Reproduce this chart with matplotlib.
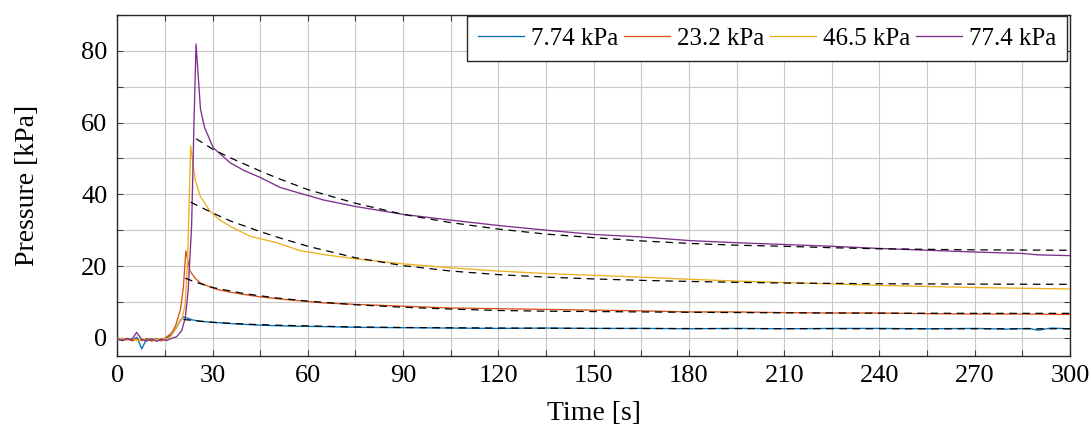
import matplotlib
matplotlib.use("Agg")
import matplotlib.pyplot as plt
from matplotlib.ticker import MultipleLocator

# measured pressure traces (time [s], pressure [kPa])
t_b = [0, 1.6, 3.1, 4.7, 6.2, 7.7, 9.3, 10.8, 12.4, 13.9, 15.5, 17.0, 18.6, 19.8, 20.8, 22.0,
       23.5, 26.0, 30, 36.6, 45, 52, 57.5, 65, 75, 90, 105, 120, 135, 150, 165, 180, 195, 210,
       225, 240, 255, 270, 280, 287, 290, 294, 300]
p_b = [0.0, -0.6, -0.2, -0.5, 0.1, -3.1, -0.2, -0.6, -0.3, -0.7, 0.0, 0.8, 2.8, 4.8, 5.8, 5.5,
       5.0, 4.6, 4.3, 3.9, 3.5, 3.3, 3.2, 3.1, 2.9, 2.8, 2.7, 2.6, 2.7, 2.6, 2.6, 2.5, 2.6, 2.5,
       2.6, 2.6, 2.5, 2.6, 2.4, 2.6, 2.1, 2.7, 2.5]

t_r = [0, 1.6, 3.1, 4.7, 6.2, 7.7, 9.3, 10.8, 12.4, 13.9, 15.5, 17.0, 18.3, 19.9, 20.8, 21.6,
       22.9, 24.5, 26.1, 28.5, 31.3, 35, 39.7, 45, 52.3, 57.5, 65, 75, 90, 105, 120, 135, 150,
       165, 180, 195, 210, 225, 240, 255, 270, 285, 300]
p_r = [-0.3, -0.8, -0.2, -0.9, -0.3, -0.8, -0.2, -1.0, -0.4, -0.9, 0.2, 1.2, 3.2, 7.9, 14.0, 24.2,
       18.6, 16.6, 15.3, 14.4, 13.5, 12.8, 12.1, 11.4, 10.7, 10.3, 9.7, 9.3, 8.8, 8.3, 8.1, 7.9, 7.7,
       7.5, 7.2, 7.2, 7.0, 6.9, 6.9, 6.7, 6.6, 6.6, 6.5]

t_y = [0, 1.6, 3.1, 4.7, 6.2, 7.7, 9.3, 10.8, 12.4, 13.9, 15.5, 16.8, 18.9, 20.4, 21.3, 22.1,
       23.1, 24.5, 26.1, 29.2, 32, 35.5, 41.8, 50.2, 57.5, 65, 75, 90, 105, 120, 135, 150, 165,
       180, 195, 210, 225, 240, 255, 270, 285, 300]
p_y = [-0.5, -0.1, -0.7, -0.2, -0.8, -0.3, -0.9, -0.2, -0.6, -0.1, -0.5, 0.3, 3.2, 5.5, 8.8, 20.0,
       53.5, 44.2, 39.5, 35.3, 33.0, 31.1, 28.3, 26.5, 24.3, 23.2, 22.0, 20.6, 19.5, 18.6, 17.9, 17.4,
       16.9, 16.3, 15.8, 15.4, 15.0, 14.6, 14.3, 14.0, 13.8, 13.6]

t_p = [0, 1.6, 3.1, 4.5, 6.1, 7.7, 9.3, 10.8, 12.4, 13.9, 15.5, 17.0, 18.7, 20.3, 21.4, 22.3,
       23.4, 24.1, 24.8, 26.2, 27.5, 30.2, 35.5, 40, 45, 51.3, 57.5, 65, 75, 90, 105, 120, 135,
       150, 165, 180, 195, 210, 225, 240, 255, 270, 285, 290, 300]
p_p = [-0.4, -0.8, -0.3, -0.6, 1.5, -0.5, -0.9, -0.3, -1.0, -0.4, -0.8, -0.2, 0.3, 2.0, 5.5, 13.0,
       31.0, 58.0, 81.9, 63.7, 58.6, 53.0, 48.8, 46.6, 44.7, 41.9, 40.3, 38.4, 36.6, 34.4, 32.8, 31.3,
       30.0, 28.8, 28.1, 27.1, 26.5, 26.0, 25.5, 24.9, 24.4, 23.9, 23.5, 23.1, 22.9]

# fitted decay curves (dashed)
fit_t_b = [20.8, 25, 30, 40, 50, 60, 75, 90, 120, 150, 200, 250, 300]
fit_p_b = [5.1, 4.7, 4.3, 3.8, 3.5, 3.3, 3.0, 2.85, 2.7, 2.6, 2.55, 2.5, 2.5]

fit_t_r = [21.4, 25, 30, 40, 50, 60, 75, 90, 105, 120, 135, 150, 180, 210, 240, 270, 300]
fit_p_r = [16.6, 15.4, 14.0, 12.3, 11.1, 10.2, 9.2, 8.5, 8.0, 7.6, 7.4, 7.3, 7.1, 6.95, 6.85, 6.8, 6.8]

fit_t_y = [23.1, 30, 35.5, 45, 51.3, 60, 75, 90, 105, 120, 135, 150, 165, 180, 195, 210, 240, 270, 300]
fit_p_y = [37.8, 34.8, 32.6, 29.6, 27.8, 25.5, 22.3, 20.1, 18.6, 17.6, 16.9, 16.4, 16.0, 15.7, 15.45,
           15.25, 15.05, 14.95, 14.9]

fit_t_p = [24.8, 30, 35.5, 45, 51.3, 60, 75, 90, 105, 120, 135, 150, 165, 180, 195, 210, 225, 240, 270, 300]
fit_p_p = [55.5, 52.6, 50.2, 46.5, 44.2, 41.3, 37.5, 34.4, 32.1, 30.3, 28.9, 27.9, 27.0, 26.3, 25.8,
           25.5, 25.1, 24.8, 24.5, 24.4]

labels = ["7.74 kPa", "23.2 kPa", "46.5 kPa", "77.4 kPa"]
colors = ["#0072BD", "#D95319", "#EDB120", "#7E2F8E"]

plt.rcParams['font.family'] = ['Liberation Serif', 'DejaVu Serif']
plt.rcParams['font.size'] = 19

fig = plt.figure(figsize=(10.91, 4.28), dpi=100)
ax = fig.add_axes([0.1075, 0.169, 0.8733, 0.796])

series = [(t_b, p_b), (t_r, p_r), (t_y, p_y), (t_p, p_p)]
fits = [(fit_t_b, fit_p_b), (fit_t_r, fit_p_r), (fit_t_y, fit_p_y), (fit_t_p, fit_p_p)]

for (t, p), lab, c in zip(series, labels, colors):
    ax.plot(t, p, color=c, lw=0.95, label=lab, zorder=3)
for t, p in fits:
    ax.plot(t, p, color='black', lw=0.9, ls=(0, (6, 4.5)), zorder=4)

ax.set_xlim(0, 300)
ax.set_ylim(-5, 90)
ax.xaxis.set_major_locator(MultipleLocator(30))
ax.xaxis.set_minor_locator(MultipleLocator(15))
ax.yaxis.set_major_locator(MultipleLocator(20))
ax.yaxis.set_minor_locator(MultipleLocator(10))
ax.grid(True, which='both', color='#c8c8c8', lw=0.8, zorder=0)
ax.set_axisbelow(True)
ax.tick_params(which='both', direction='in', top=True, right=True, length=4,
               width=0.8, color='#404040', pad=7)
for s in ax.spines.values():
    s.set_color('#262626')
    s.set_linewidth(1.0)

ax.set_xlabel("Time [s]", fontsize=20, labelpad=10)
ax.set_ylabel("Pressure [kPa]", fontsize=20, labelpad=30)

leg = ax.legend(loc='upper right', bbox_to_anchor=(0.997, 0.997), ncol=4, borderaxespad=0,
                fontsize=18, handlelength=1.85, handletextpad=0.25, columnspacing=0.25,
                borderpad=0.45, fancybox=False, framealpha=1, edgecolor='#262626')
leg.get_frame().set_linewidth(1.0)

fig.savefig("out.png", dpi=100)
